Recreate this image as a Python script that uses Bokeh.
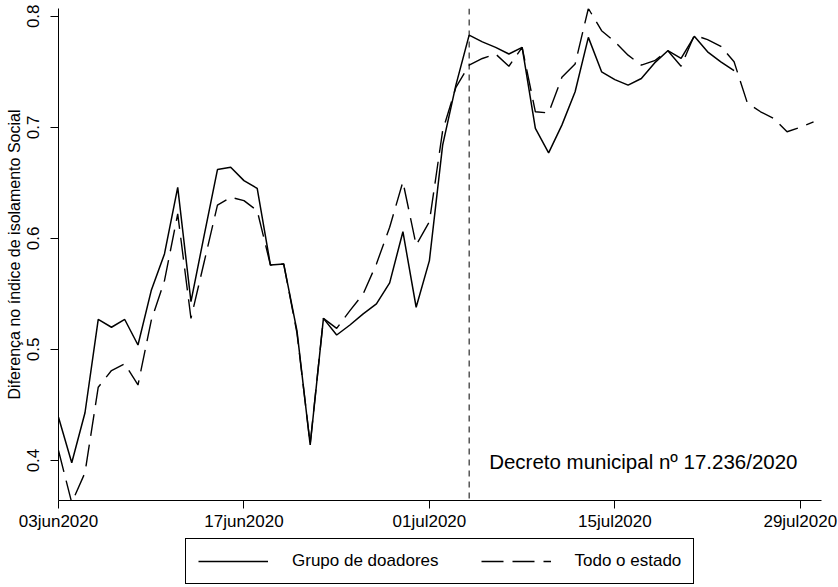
import pandas as pd
from bokeh.plotting import figure
from bokeh.layouts import column
from bokeh.models import (Range1d, FixedTicker, CustomJSTickFormatter, Legend, LegendItem,
                          Span, Label)
from bokeh.embed import file_html
from bokeh.resources import INLINE

# ---- data ----
start_date = "2020-06-03"
decree_date = "2020-07-04"
x_tick_dates = ["2020-06-03", "2020-06-17", "2020-07-01", "2020-07-15", "2020-07-29"]
y_ticks = [0.4, 0.5, 0.6, 0.7, 0.8]
y_tick_labels = ["0.4", "0.5", "0.6", "0.7", "0.8"]

grupo_doadores = [
    0.439, 0.398, 0.443, 0.527, 0.520, 0.527, 0.504, 0.553, 0.586, 0.646,
    0.543, 0.603, 0.662, 0.664, 0.652, 0.645, 0.576, 0.577, 0.517, 0.414,
    0.528, 0.513, 0.522, 0.532, 0.541, 0.560, 0.606, 0.538, 0.580, 0.684,
    0.738, 0.783, 0.777, 0.772, 0.766, 0.772, 0.699, 0.677, 0.702, 0.732,
    0.781, 0.750, 0.743, 0.738, 0.744, 0.758, 0.769, 0.762, 0.782, 0.768,
    0.759, 0.751,
]
todo_estado = [
    0.409, 0.362, 0.389, 0.466, 0.481, 0.487, 0.468, 0.526, 0.562, 0.622,
    0.528, 0.579, 0.630, 0.637, 0.634, 0.625, 0.576, 0.577, 0.515, 0.415,
    0.528, 0.519, 0.535, 0.550, 0.577, 0.610, 0.651, 0.594, 0.615, 0.697,
    0.736, 0.756, 0.762, 0.766, 0.755, 0.772, 0.714, 0.713, 0.745, 0.757,
    0.807, 0.787, 0.777, 0.765, 0.756, 0.760, 0.769, 0.755, 0.783, 0.779,
    0.773, 0.759, 0.722, 0.714, 0.708, 0.696, 0.700, 0.705,
]
legend_labels = ["Grupo de doadores", "Todo o estado"]
annotation_text = "Decreto municipal nº 17.236/2020"
y_title = "Diferença no índice de isolamento Social"

dates_estado = pd.date_range(start_date, periods=len(todo_estado))
dates_doadores = dates_estado[:len(grupo_doadores)]

FONT = "Liberation Sans"
SOLID = dict(line_color="black", line_width=1.5)
DASHED = dict(line_color="black", line_width=1.4, line_dash="22 9")

t0 = pd.Timestamp(start_date)
p = figure(width=838, height=538, x_axis_type="datetime",
           x_range=Range1d(t0, t0 + pd.Timedelta(days=57.6)),
           y_range=Range1d(0.364, 0.807),
           output_backend="svg", toolbar_location=None,
           min_border_left=58, min_border_right=17, min_border_top=8,
           min_border_bottom=38)
p.outline_line_color = None
p.xgrid.visible = False
p.ygrid.visible = False
p.background_fill_color = "white"
p.border_fill_color = "white"

p.line(dates_doadores, grupo_doadores, **SOLID)
p.line(dates_estado, todo_estado, **DASHED)

ms = lambda s: pd.Timestamp(s).value / 1e6

p.add_layout(Span(location=ms(decree_date), dimension="height", line_color="black",
                  line_width=1, line_dash="6 5"))
p.add_layout(Label(x=ms(decree_date), y=0.399, x_offset=20, text=annotation_text,
                   text_baseline="middle", text_font=FONT, text_font_size="20.5px",
                   text_color="black"))

# axes
xa = p.xaxis[0]
xa.ticker = FixedTicker(ticks=[ms(d) for d in x_tick_dates])
xa.formatter = CustomJSTickFormatter(code="""
const d = new Date(tick);
const m = ['jan','feb','mar','apr','may','jun','jul','aug','sep','oct','nov','dec'];
return String(d.getUTCDate()).padStart(2,'0') + m[d.getUTCMonth()] + d.getUTCFullYear();
""")
ya = p.yaxis[0]
ya.ticker = FixedTicker(ticks=y_ticks)
ya.major_label_overrides = {t: l for t, l in zip(y_ticks, y_tick_labels)}
ya.major_label_orientation = "vertical"
ya.axis_label = y_title
ya.axis_label_text_font_style = "normal"
ya.axis_label_text_font = FONT
ya.axis_label_text_font_size = "16px"
ya.axis_label_text_color = "black"
ya.axis_label_standoff = 2

for ax in (xa, ya):
    ax.axis_line_color = "black"
    ax.major_tick_line_color = "black"
    ax.minor_tick_line_color = None
    ax.major_tick_in = 0
    ax.major_tick_out = 8
    ax.major_label_text_font = FONT
    ax.major_label_text_font_size = "17px"
    ax.major_label_text_color = "black"
xa.major_label_standoff = 3
ya.major_label_standoff = 11

# legend strip below the chart
pl = figure(width=838, height=49, x_range=Range1d(0, 1), y_range=Range1d(0, 1),
            x_axis_type=None, y_axis_type=None, output_backend="svg",
            toolbar_location=None, min_border=0, min_border_left=0,
            min_border_right=0, min_border_top=0, min_border_bottom=0)
pl.outline_line_color = None
pl.xgrid.visible = False
pl.ygrid.visible = False
nan = float("nan")
l1 = pl.line([nan], [nan], **SOLID)
l2 = pl.line([nan], [nan], **DASHED)
legend = Legend(items=[LegendItem(label=legend_labels[0], renderers=[l1]),
                       LegendItem(label=legend_labels[1], renderers=[l2])],
                orientation="horizontal", location=(127, 3),
                glyph_width=70, glyph_height=16, label_height=16,
                label_standoff=24, spacing=42, padding=12, margin=0,
                border_line_color="black", border_line_width=1, border_line_alpha=1,
                label_text_font=FONT, label_text_font_size="17px",
                label_text_color="black")
pl.add_layout(legend, "center")

layout = column(p, pl, spacing=0)
open("out.html", "w").write(file_html(layout, INLINE))
